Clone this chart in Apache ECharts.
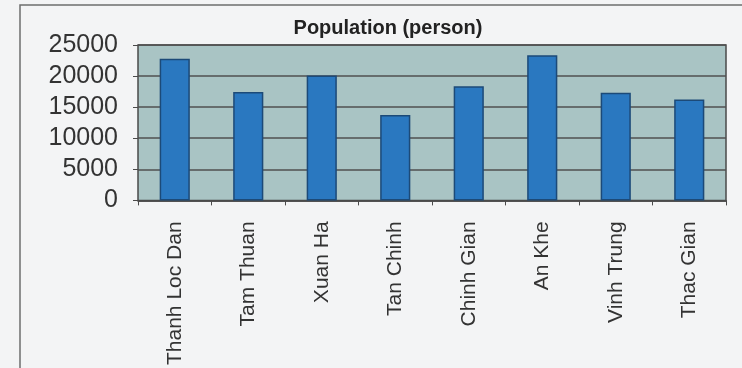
<!DOCTYPE html>
<html>
<head>
<meta charset="utf-8">
<script src="https://cdn.jsdelivr.net/npm/echarts@6/dist/echarts.min.js"></script>
<style>
  html, body { margin: 0; padding: 0; background: #f3f4f5; }
  #chart { width: 742px; height: 368px; }
</style>
</head>
<body>
<div id="chart"></div>
<script>
// Commune names along the x axis
const communes = ['Thanh Loc Dan', 'Tam Thuan', 'Xuan Ha', 'Tan Chinh', 'Chinh Gian', 'An Khe', 'Vinh Trung', 'Thac Gian'];
// Population of each commune (persons)
const population = [22800, 17450, 20100, 13750, 18350, 23350, 17300, 16250];
// Value axis ticks
const yTicks = [0, 5000, 10000, 15000, 20000, 25000];

const chart = echarts.init(document.getElementById('chart'), null, { renderer: 'canvas' });

chart.setOption({
  backgroundColor: '#f3f4f5',
  animation: false,
  graphic: [{
    type: 'rect',
    shape: { x: 20, y: 5, width: 760, height: 400 },
    style: { fill: 'none', stroke: '#6e6e6e', lineWidth: 1.5 },
    z: 0
  }],
  title: {
    text: 'Population (person)',
    left: 383,
    textAlign: 'center',
    top: 13,
    textStyle: { fontFamily: 'Liberation Sans', fontWeight: 'bold', fontSize: 20, color: '#222' }
  },
  grid: {
    left: 138, right: 16, top: 45, bottom: 166,
    show: true,
    backgroundColor: '#a9c4c4',
    borderColor: '#4a4a4a',
    borderWidth: 1.5
  },
  xAxis: {
    type: 'category',
    data: communes,
    axisLine: { show: true, lineStyle: { color: '#4a4a4a', width: 1.5 } },
    axisTick: { show: true, length: 5, lineStyle: { color: '#4a4a4a' } },
    axisLabel: {
      rotate: 90,
      margin: 21,
      fontFamily: 'Liberation Sans',
      fontSize: 21,
      color: '#333'
    }
  },
  yAxis: {
    type: 'value',
    min: yTicks[0],
    max: yTicks[yTicks.length - 1],
    interval: yTicks[1] - yTicks[0],
    axisLine: { show: false },
    axisTick: { show: true, length: 5, lineStyle: { color: '#4a4a4a' } },
    splitLine: { show: true, lineStyle: { color: '#505050', width: 1.5 } },
    axisLabel: {
      margin: 20,
      formatter: v => String(v),
      fontFamily: 'Liberation Sans',
      fontSize: 25,
      color: '#333'
    }
  },
  series: [{
    type: 'bar',
    data: population,
    barWidth: '41%',
    itemStyle: {
      color: '#2a78c0',
      borderColor: '#1c4a78',
      borderWidth: 1.5
    }
  }]
});
</script>
</body>
</html>
